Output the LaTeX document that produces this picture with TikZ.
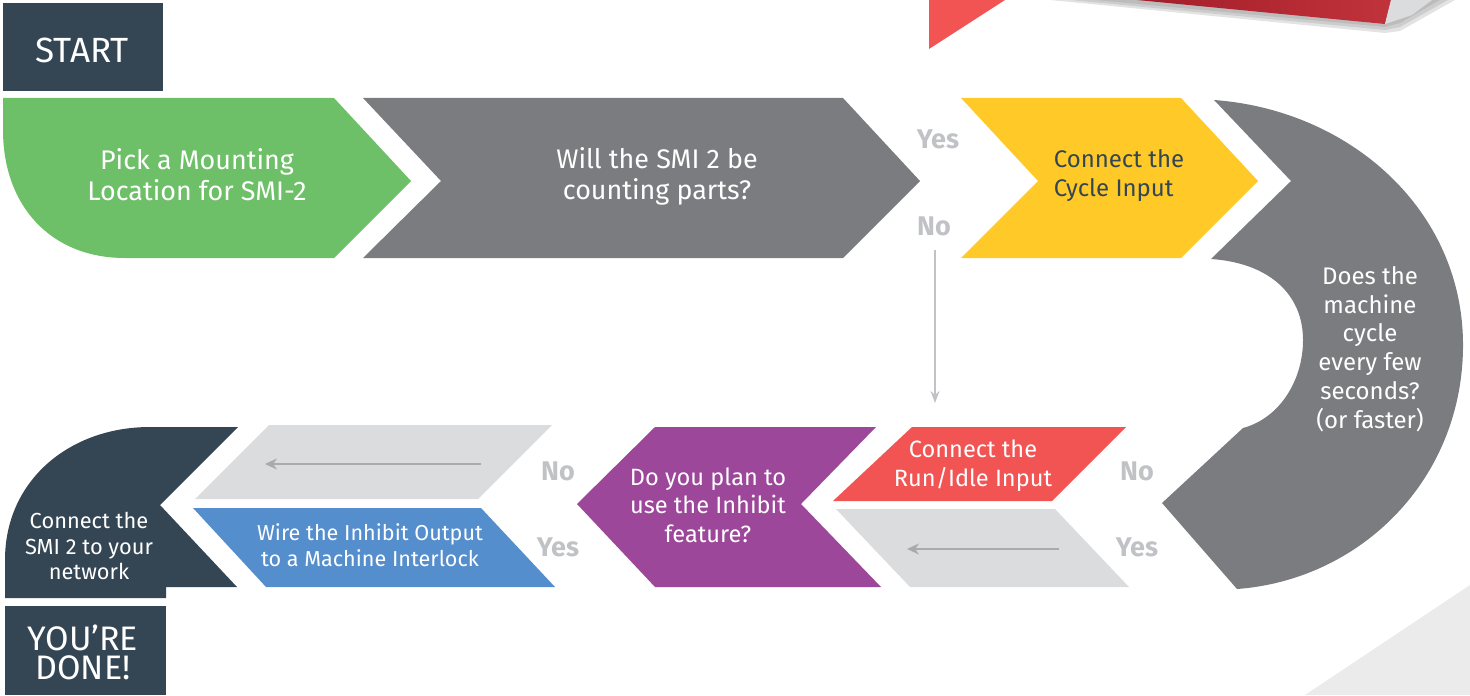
\documentclass[tikz,border=0pt]{standalone}
\usepackage{fontspec}
\setmainfont{Fira Sans}
\usetikzlibrary{arrows.meta}
\definecolor{navy}{HTML}{344554}
\definecolor{grn}{HTML}{6DC067}
\definecolor{gry}{HTML}{7B7C80}
\definecolor{yel}{HTML}{FFC928}
\definecolor{rdd}{HTML}{F25454}
\definecolor{pur}{HTML}{9C4799}
\definecolor{blu}{HTML}{558ECD}
\definecolor{lgr}{HTML}{DBDCDE}
\definecolor{lab}{HTML}{C1C2C6}
\definecolor{arr}{HTML}{A9AAAD}
\definecolor{corner}{HTML}{EBEBEB}
\definecolor{bandA}{HTML}{A21D29}
\definecolor{bandB}{HTML}{C1333B}
\definecolor{shad}{HTML}{808080}
\tikzset{
 lbl/.style={align=center,text=white,font=\fontsize{13.45}{15.5}\selectfont,inner sep=0pt},
 med/.style={align=center,text=white,font=\fontsize{11.8}{14.35}\selectfont,inner sep=0pt},
 sml/.style={align=center,text=white,font=\fontsize{10.8}{12.7}\selectfont,inner sep=0pt},
 ans/.style={text=lab,font=\fontsize{13.5}{15}\bfseries\selectfont,inner sep=0pt},
 flowline/.style={draw=arr,line width=1.4pt,-{Stealth[length=6pt,width=5.5pt]}},
 vline/.style={draw=lab,line width=1pt,-{Stealth[length=6pt,width=4.5pt]}},
 soft/.style={fill=shad,fill opacity=0.22}
}
\begin{document}
\begin{tikzpicture}[x=0.5pt,y=-0.5pt]
\useasboundingbox (0,0) rectangle (1470,695);
% background corner and product band
\fill[corner] (1470,585) -- (1305,695) -- (1470,695) -- cycle;
\fill[rdd] (929,0) -- (1005,0) -- (929,49) -- cycle;
\fill[soft] (1050,0) -- (1385,33) -- (1400,31) -- (1455,0) -- cycle;
\fill[soft] (1070,0) -- (1385,30) -- (1400,27) -- (1448,0) -- cycle;
\fill[soft] (1095,0) -- (1385,27) -- (1400,23) -- (1440,0) -- cycle;
\shade[left color=bandA,right color=bandB] (1137,0) -- (1385,24) -- (1391,0) -- cycle;
\fill[lgr] (1385,24) -- (1391,0) -- (1432,0) -- (1412,15) -- cycle;
% top row
\fill[navy] (3,3) rectangle (163,91);
\fill[grn] (3,98) -- (334,98) -- (411,181) -- (334,258) -- (125,258) .. controls (50,258) and (3,205) .. (3,130) -- cycle;
\fill[gry] (363,98) -- (843,98) -- (920,181) -- (843,258) -- (363,258) -- (441,181) -- cycle;
\fill[yel] (961,98) -- (1181,98) -- (1258,181) -- (1181,258) -- (961,258) -- (1038,181) -- cycle;
\fill[gry] (1214,100) .. controls (1350,110) and (1463,210) .. (1463,345)
  .. controls (1463,480) and (1360,580) .. (1237,589) -- (1162,503) -- (1243,428)
  .. controls (1280,418) and (1303,380) .. (1303,340)
  .. controls (1303,295) and (1270,263) .. (1211,259) -- (1291,181) -- cycle;
% lower row
\fill[rdd] (833,501) -- (912,427) -- (1126,427) -- (1052,501) -- cycle;
\fill[lgr] (836,509) -- (1055,509) -- (1129,587) -- (910,587) -- cycle;
\fill[pur] (655,427) -- (876,427) -- (801,504) -- (881,587) -- (655,587) -- (577,504) -- cycle;
\fill[lgr] (269,425) -- (552,425) -- (478,499) -- (195,499) -- cycle;
\fill[blu] (193,508) -- (481,508) -- (555,587) -- (266,587) -- cycle;
\fill[navy] (238,427) -- (160,505) -- (237,587) -- (166,587) -- (166,598) -- (5,598) -- (5,560)
  .. controls (5,480) and (70,427) .. (150,427) -- cycle;
\fill[navy] (5,606) rectangle (166,695);
% text
\node[lbl,font=\fontsize{17.5}{18}\selectfont] (start) at (82,50) {START};
\node[lbl] (pick) at (197,175) {Pick a Mounting\\Location for SMI-2};
\node[lbl] (will) at (657,176) {Will the SMI 2 be\\counting parts?};
\node[lbl,text=navy,align=left,font=\fontsize{12}{14.5}\selectfont] (cyc) at (1119,176) {Connect the\\Cycle Input};
\node[med,font=\fontsize{12}{14.4}\selectfont] (does) at (1370,349) {Does the\\machine\\cycle\\every few\\seconds?\\(or faster)};
\node[med] (run) at (973,466) {Connect the\\Run/Idle Input};
\node[med] (inh) at (708,505) {Do you plan to\\use the Inhibit\\feature?};
\node[sml] (wire) at (370,545) {Wire the Inhibit Output\\to a Machine Interlock};
\node[sml,font=\fontsize{10.9}{12.8}\selectfont] (net) at (89,546) {Connect the\\SMI 2 to your\\network};
\node[lbl,font=\fontsize{17}{14.5}\selectfont] (done) at (83,652) {YOU’RE\\DONE!};
\node[ans] (y1) at (938,139) {Yes};
\node[ans] (n1) at (934,226) {No};
\node[ans] (n2) at (558,471) {No};
\node[ans] (y2) at (558,547) {Yes};
\node[ans] (n3) at (1137,471) {No};
\node[ans] (y3) at (1137,547) {Yes};
% connectors
\coordinate (vs) at (935,250); \coordinate (ve) at (935,403);
\draw[vline] (vs) -- (ve);
\coordinate (as) at (1059,549); \coordinate (ae) at (907,549);
\draw[flowline] (as) -- (ae);
\coordinate (bs) at (481,464); \coordinate (be) at (265,464);
\draw[flowline] (bs) -- (be);
\end{tikzpicture}
\end{document}
